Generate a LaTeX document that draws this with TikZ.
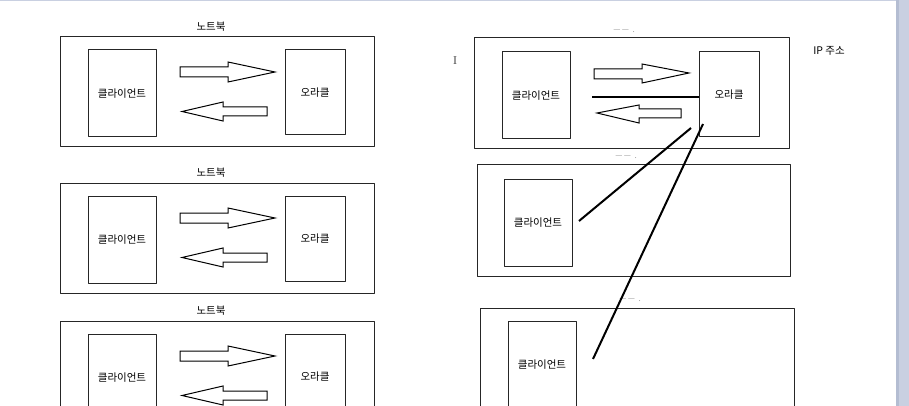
\documentclass[tikz,border=0pt]{standalone}
\usepackage{fontspec}
\setmainfont{Noto Sans CJK KR}
\newfontfamily\cursorfont{Liberation Serif}
\usepackage{tikz}
\usetikzlibrary{calc}
\definecolor{winedge}{HTML}{C9D0E1}
\definecolor{winside}{HTML}{B4BDD2}
\tikzset{frame/.style={draw=black!85, line width=1pt, inner sep=0pt}}
\tikzset{l/.style={font=\fontsize{10.5}{11}\selectfont}}
\tikzset{faded/.style={font=\fontsize{8}{8}\selectfont, text=black!40}}
\tikzset{blockarrow/.style={draw=black, line width=1pt, line join=miter, fill=white}}
\tikzset{wire/.style={draw=black, line width=2pt}}

\begin{document}
\begin{tikzpicture}[x=1pt, y=-1pt, line join=round]
            \useasboundingbox (0,0) rectangle (909,406);
            % window edges of the screenshot
            \fill[winedge] (0,0) rectangle (909,1.5);
            \fill[winedge] (896,0) rectangle (909,406);
            \fill[winside] (896,0) rectangle (899,406);
            % left column: three laptops, each with client and oracle
            \foreach \dy/\n in {0/1,146/2,284/3}{
              \begin{scope}[yshift=-\dy pt]
                \node[l] (title\n) at (211,27) {노트북};
                \node[frame, minimum width=314, minimum height=110] (laptop\n) at (217,92) {};
                \node[frame, l, minimum width=68, minimum height=87] (client\n) at (122,93.5) {클라이언트};
                \node[frame, l, minimum width=60, minimum height=85] (oracle\n) at (315,92.5) {오라클};
                \draw[blockarrow](180,67)--(228,67)--(228,62)--(275,72)--(228,82)--(228,77)--(180,77)--cycle;
                \draw[blockarrow](182,111.5)--(223,102)--(223,107)--(267,107)--(267,116)--(223,116)--(223,121)--cycle;
              \end{scope}
            }
            % right column: one oracle shared by three clients
            \node[faded] (titleA) at (624,31) {—\,—\ \ .};
            \node[frame, minimum width=315, minimum height=111] (laptopA) at (631.5,93.5) {};
            \node[frame, l, minimum width=68, minimum height=87] (clientA) at (536,95.5) {클라이언트};
            \node[frame, l, minimum width=60, minimum height=85] (oracleA) at (729,94.5) {오라클};
            \draw[blockarrow](594,69)--(642,69)--(642,64)--(689,73)--(642,83)--(642,79)--(594,79)--cycle;
            \draw[blockarrow](597,113)--(639,105)--(639,109)--(681,109)--(681,118)--(639,118)--(639,123)--cycle;
            \coordinate (hstart) at (592,97);
            \draw[wire] (hstart) -- (hstart -| oracleA.west);
            \node[l] (ipaddr) at (829,51) {IP 주소};
            \node[font=\cursorfont\fontsize{12}{12}\selectfont, text=black!70] (cursor) at (455,61) {I};

            \node[faded] (titleB) at (626,157) {—\,—\ \ .};
            \node[frame, minimum width=313, minimum height=111] (laptopB) at (633.5,220.5) {};
            \node[frame, l, minimum width=68, minimum height=87] (clientB) at (538,222.5) {클라이언트};

            \node[faded] (titleC) at (630,300) {—\,—\ \ .};
            \node[frame, minimum width=314, minimum height=111] (laptopC) at (637,363.5) {};
            \node[frame, l, minimum width=68, minimum height=87] (clientC) at (542,364.5) {클라이언트};

            \coordinate (fromA1) at (691,128);
            \coordinate (fromA2) at (703,124);
            \coordinate (toB) at (579,221);
            \coordinate (toC) at (593,359);
            \draw[wire] (fromA1) -- (toB);
            \draw[wire] (fromA2) -- (toC);
          \end{tikzpicture}
\end{document}
